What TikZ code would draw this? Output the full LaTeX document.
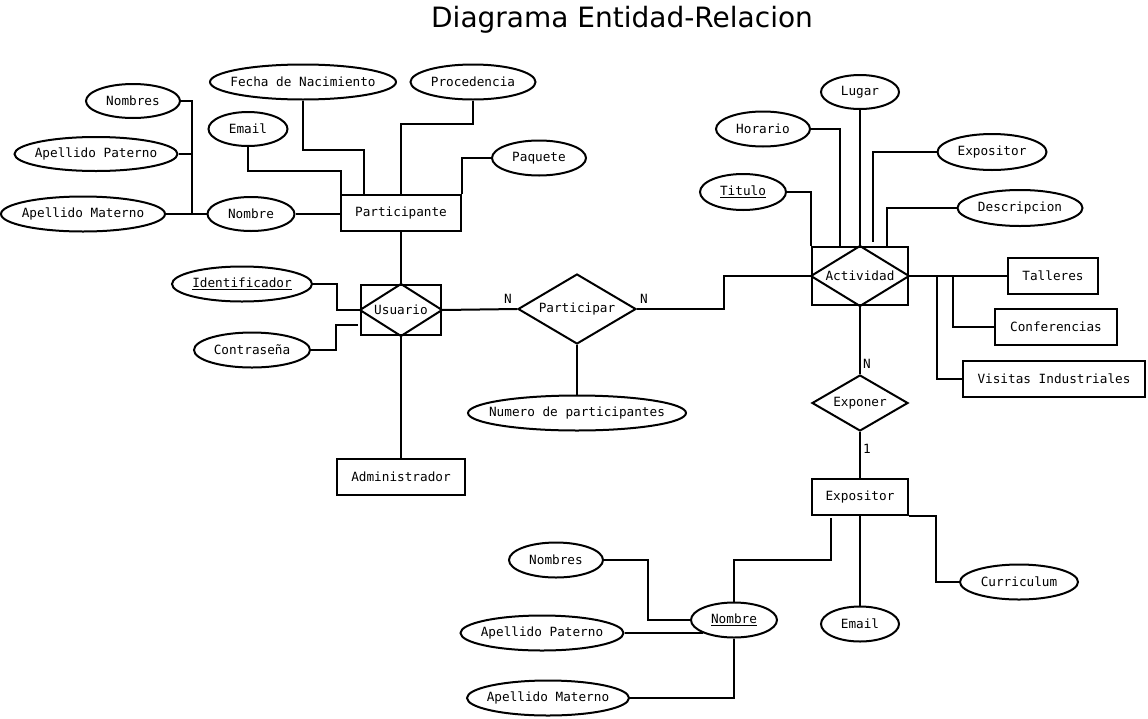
\documentclass[tikz,border=0pt]{standalone}
\usepackage{fontspec}
\setmonofont{DejaVu Sans Mono}
\newfontfamily\titlefont{DejaVu Sans}
\usetikzlibrary{shapes.geometric}
\newcommand{\ztext}[1]{\makebox[0pt]{#1}}
\tikzset{
  base/.style={draw, line width=2pt, inner sep=0pt, font=\ttfamily\fontsize{12.7}{14}\selectfont},
  attr/.style={base, ellipse},
  ent/.style={base, rectangle},
  rel/.style={base, diamond},
  lbl/.style={inner sep=0pt, font=\ttfamily\fontsize{12.7}{14}\selectfont},
  conn/.style={line width=2pt}
}
\begin{document}
\begin{tikzpicture}[x=1pt,y=-1pt]
\useasboundingbox[fill=white] (0,0) rectangle (1148,718);
\node[inner sep=0pt, font=\titlefont\fontsize{28}{32}\selectfont] (title) at (622,20) {Diagrama Entidad-Relacion};

% Participante side
\node[ent, minimum width=120, minimum height=36] (part) at (401,213) {Participante};
\node[attr, minimum width=94, minimum height=34] (nombresP) at (133,101) {\ztext{Nombres}};
\node[attr, minimum width=163, minimum height=34] (apP) at (96,154) {\ztext{Apellido Paterno}};
\node[attr, minimum width=164, minimum height=35] (amP) at (83,214) {\ztext{Apellido Materno}};
\node[attr, minimum width=87, minimum height=34] (nombreP) at (251,214) {\ztext{Nombre}};
\node[attr, minimum width=79, minimum height=34] (email) at (248,129) {\ztext{Email}};
\node[attr, minimum width=186, minimum height=35] (fecha) at (303,82) {\ztext{Fecha de Nacimiento}};
\node[attr, minimum width=125, minimum height=35] (proc) at (473,82) {\ztext{Procedencia}};
\node[attr, minimum width=94, minimum height=35] (paq) at (539,158) {\ztext{Paquete}};

\node[ent, minimum width=80, minimum height=50] (usu) at (401,310) {};
\node[lbl] (usut) at (401,310) {Usuario};
\node[attr, minimum width=140, minimum height=35] (ident) at (242,284) {\ztext{\underline{Identificador}}};
\node[attr, minimum width=116, minimum height=35] (contra) at (252,350) {\ztext{Contraseña}};
\node[ent, minimum width=128, minimum height=36] (admin) at (401,477) {Administrador};

\node[rel, minimum width=118, minimum height=70] (partic) at (577,309) {\ztext{Participar}};
\node[attr, minimum width=218, minimum height=35] (numero) at (577,413) {\ztext{Numero de participantes}};
\node[lbl] (n1) at (508,299) {N};
\node[lbl] (n2) at (644,299) {N};

% Actividad side
\node[ent, minimum width=96, minimum height=58] (act) at (860,276) {};
\node[lbl] (actt) at (860,276) {Actividad};
\node[attr, minimum width=78, minimum height=34] (lugar) at (860,92) {\ztext{Lugar}};
\node[attr, minimum width=94, minimum height=35] (horario) at (763,129) {\ztext{Horario}};
\node[attr, minimum width=109, minimum height=36] (expoA) at (992,152) {\ztext{Expositor}};
\node[attr, minimum width=86, minimum height=36] (titulo) at (743,192) {\ztext{\underline{Titulo}}};
\node[attr, minimum width=125, minimum height=36] (desc) at (1020,208) {\ztext{Descripcion}};
\node[ent, minimum width=90, minimum height=36] (talleres) at (1053,276) {Talleres};
\node[ent, minimum width=122, minimum height=36] (conf) at (1056,327) {Conferencias};
\node[ent, minimum width=182, minimum height=36] (visitas) at (1054,379) {Visitas Industriales};

\node[rel, minimum width=96, minimum height=56] (exponer) at (860,403) {\ztext{Exponer}};
\node[lbl] (n3) at (867,364) {N};
\node[lbl] (one) at (867,449) {1};
\node[ent, minimum width=96, minimum height=36] (expoE) at (860,497) {Expositor};

\node[attr, minimum width=94, minimum height=35] (nombresE) at (556,560) {\ztext{Nombres}};
\node[attr, minimum width=163, minimum height=35] (apE) at (542,633) {\ztext{Apellido Paterno}};
\node[attr, minimum width=162, minimum height=35] (amE) at (548,698) {\ztext{Apellido Materno}};
\node[attr, minimum width=86, minimum height=35] (nombreE) at (734,620) {\ztext{\underline{Nombre}}};
\node[attr, minimum width=78, minimum height=35] (emailE) at (860,624) {\ztext{Email}};
\node[attr, minimum width=118, minimum height=35] (curr) at (1019,582) {\ztext{Curriculum}};

% diamonds inside associative entities
\draw[conn] (usu.north) -- (usu.east) -- (usu.south) -- (usu.west) -- cycle;
\draw[conn] (act.north) -- (act.east) -- (act.south) -- (act.west) -- cycle;

% connectors
\coordinate (busP) at (192,214);
\draw[conn] (nombresP.east) -| (busP);
\draw[conn] (apP.east) -- (apP.east -| busP);
\draw[conn] (amP.east) -- (nombreP.west);
\draw[conn] (nombreP.east) -- (nombreP.east -| part.west);
\draw[conn] (email.south) -- ++(0,24) -| ([xshift=1pt]part.north west);
\draw[conn] (fecha.south) -- ++(0,49) -| ([xshift=24pt]part.north west);
\draw[conn] (proc.south) -- ++(0,23) -| (part.north);
\draw[conn] (paq.west) -| (part.north east);
\draw[conn] (part.south) -- (usu.north);
\draw[conn] (ident.east) -- ++(24,0) |- (usu.west);
\draw[conn] (contra.east) -- ++(25,0) |- ([xshift=-2pt,yshift=-15pt]usu.west);
\draw[conn] (usu.east) -- (partic.west);
\draw[conn] (partic.south) -- (numero.north);
\draw[conn] (usu.south) -- (admin.north);
\draw[conn] (partic.east) -- ++(87,0) |- (act.west);

\draw[conn] (lugar.south) -- (act.north);
\draw[conn] (horario.east) -| ([xshift=29pt]act.north west);
\draw[conn] (titulo.east) -| (act.north west);
\draw[conn] (expoA.west) -| ([xshift=62pt,yshift=4pt]act.north west);
\draw[conn] (desc.west) -| ([xshift=76pt]act.north west);
\draw[conn] (act.east) -- (talleres.west);
\draw[conn] ([xshift=44pt]act.east) |- (conf.west);
\draw[conn] ([xshift=28pt]act.east) |- (visitas.west);
\draw[conn] (act.south) -- (exponer.north);
\draw[conn] (exponer.south) -- (expoE.north);

\draw[conn] ([xshift=20pt,yshift=-2pt]expoE.south west) -- ++(0,42) -| (nombreE.north);
\draw[conn] (expoE.south) -- (emailE.north);
\draw[conn] (expoE.south east) -- ++(27,0) |- (curr.west);
\draw[conn] (nombresE.east) -- ++(44,0) |- (nombreE.west);
\draw[conn] (apE.east) -- (apE.east -| nombreE.south west);
\draw[conn] (amE.east) -| (nombreE.south);
\end{tikzpicture}
\end{document}
